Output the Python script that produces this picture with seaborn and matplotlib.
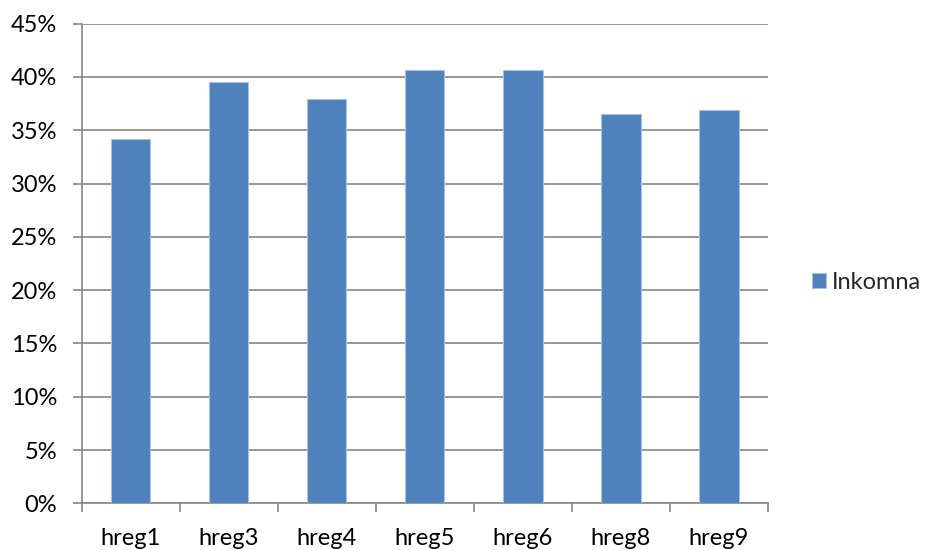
import matplotlib
matplotlib.use("Agg")
import matplotlib.pyplot as plt
import matplotlib.ticker as mticker
import seaborn as sns
import pandas as pd
import numpy as np

regions = ["hreg1", "hreg3", "hreg4", "hreg5", "hreg6", "hreg8", "hreg9"]
inkomna = [0.342, 0.3955, 0.379, 0.4068, 0.4062, 0.365, 0.369]
series_name = "Inkomna"

sns.set_theme(style="white")
plt.rcParams["font.family"] = ["Lato", "DejaVu Sans"]

df = pd.DataFrame({"region": regions, "value": inkomna, "serie": series_name})

fig = plt.figure(figsize=(9.27, 5.5), dpi=100)
ax = fig.add_axes([0.0881, 0.0849, 0.7404, 0.872])

sns.barplot(data=df, x="region", y="value", hue="serie", palette=["#4F81BD"],
            width=0.4, ax=ax, saturation=1, edgecolor="#A7C0DE", linewidth=0.8,
            zorder=3)

grid_c = "#868686"
fs = 17
ax.set_ylim(0, 0.45)
ax.set_xlim(-0.5, len(regions) - 0.5)
ax.yaxis.set_major_locator(mticker.MultipleLocator(0.05))
ax.yaxis.set_major_formatter(mticker.FuncFormatter(lambda v, p: f"{v*100:.0f}%"))
ax.grid(axis="y", color=grid_c, linewidth=1.2, zorder=0)
ax.set_axisbelow(True)

for s in ["top", "right"]:
    ax.spines[s].set_visible(False)
for s in ["left", "bottom"]:
    ax.spines[s].set_color(grid_c)
    ax.spines[s].set_linewidth(1.2)

# tick marks sit between categories on the x axis
ax.xaxis.set_minor_locator(mticker.FixedLocator(np.arange(-0.5, len(regions), 1.0)))
ax.tick_params(axis="x", which="major", length=0, pad=18, labelsize=fs, labelcolor="black")
ax.tick_params(axis="x", which="minor", length=6.5, width=1.2, color=grid_c, bottom=True)
ax.tick_params(axis="y", which="major", length=6.5, width=1.2, color=grid_c, left=True,
               labelsize=fs, labelcolor="black", pad=11)
ax.set_xlabel("")
ax.set_ylabel("")

ax.legend(loc="center left", bbox_to_anchor=(1.05, 0.46), frameon=False,
          borderaxespad=0, fontsize=fs, handlelength=0.6, handleheight=0.6,
          handletextpad=0.25)

fig.savefig("out.png", dpi=100, facecolor="white")
